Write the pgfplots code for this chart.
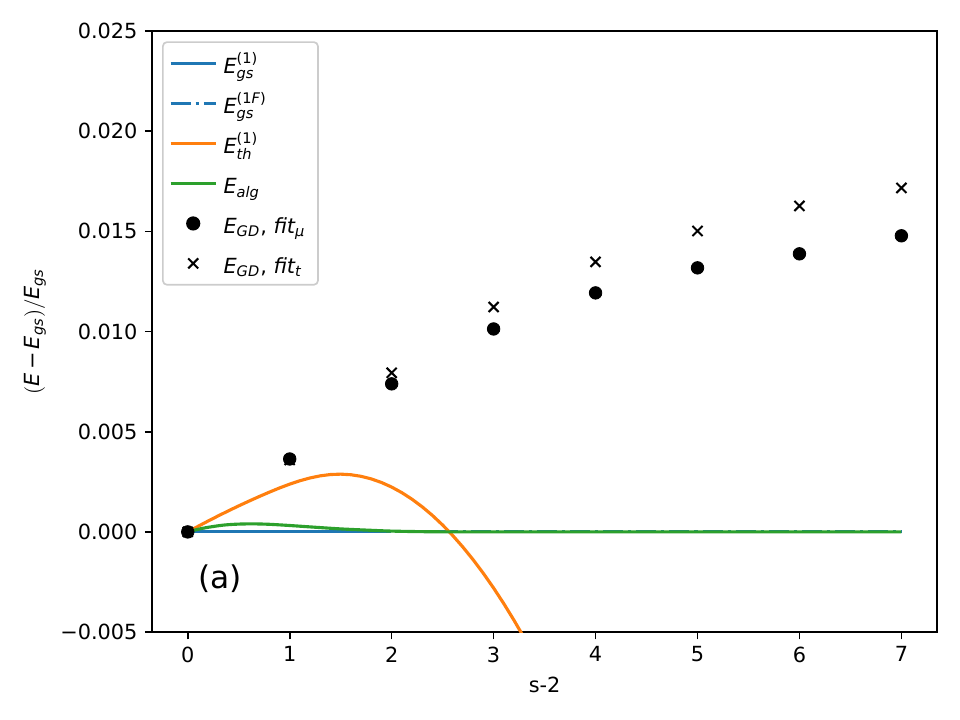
\documentclass[border=0pt]{standalone}
\usepackage{fontspec}
\setmainfont{DejaVu Sans}
\usepackage{amsmath}
\usepackage{pgfplots}
\pgfplotsset{compat=1.18}
\newcommand{\mi}[1]{\text{\itshape #1}}
\newcommand{\lst}{\rule[-5pt]{0pt}{16pt}}
\definecolor{cA}{HTML}{1F77B4}
\definecolor{cB}{HTML}{FF7F0E}
\definecolor{cC}{HTML}{2CA02C}
\begin{document}
\begin{tikzpicture}
\path[use as bounding box] (-73pt,-42.2pt) rectangle (387.8pt,303.4pt);
\begin{axis}[
  at={(0,0)}, anchor=south west, scale only axis,
  width=376.8pt, height=288.5pt,
  xmin=-0.35, xmax=7.35, ymin=-0.005, ymax=0.025,
  xtick={0,1,2,3,4,5,6,7},
  ytick={-0.005,0,0.005,0.01,0.015,0.02,0.025},
  yticklabels={−0.005,0.000,0.005,0.010,0.015,0.020,0.025},
  scaled y ticks=false,
  /pgf/number format/assume math mode=true,
  tick align=outside, tick pos=left,
  major tick length=3.5pt,
  every tick/.style={black, line width=0.8pt},
  axis line style={line width=0.8pt},
  tick label style={font=\fontsize{10}{12}\selectfont},
  label style={font=\fontsize{10}{12}\selectfont},
  xlabel={s-2},
  ylabel={$(\mi{E}\,\text{−}\,\mi{E}_{\mi{gs}})/\mi{E}_{\mi{gs}}$},
  legend cell align=left,
  legend style={at={(0.0127,0.983)}, anchor=north west,
    draw=black!20, rounded corners=2pt, line width=0.8pt,
    font=\fontsize{10}{12}\selectfont,
    nodes={inner ysep=1pt, inner xsep=3pt},
    row sep=4.7pt, inner xsep=3pt, inner ysep=3pt},
  legend image code/.code={\draw[mark repeat=2,mark phase=2] plot coordinates {(0cm,0cm)(0.38cm,0cm)(0.76cm,0cm)};},
  clip=true,
]
\addplot[cA, line width=1.5pt] coordinates {(0,0) (1.8,0)};
\addlegendentry{\lst$\mi{E}^{\text{(1)}}_{\mi{gs}}$}
\addplot[cA, line width=1.5pt, dash pattern=on 9.6pt off 2.4pt on 1.5pt off 2.4pt] coordinates {(1.8,0) (7,0)};
\addlegendentry{\lst$\mi{E}^{\text{(1}\mi{F}\text{)}}_{\mi{gs}}$}
\addplot[cB, line width=1.5pt] coordinates {
(0,0) (0.1,0.000276) (0.2,0.000544) (0.3,0.000804) (0.4,0.001056) (0.5,0.0013) (0.6,0.001536) (0.7,0.001764) (0.8,0.001984) (0.9,0.002193) (1.0,0.002385) (1.1,0.002554) (1.2,0.002694) (1.3,0.002799) (1.4,0.002864) (1.5,0.002883) (1.6,0.002854) (1.7,0.002775) (1.8,0.002646) (1.9,0.002467) (2.0,0.002238) (2.1,0.001959) (2.2,0.00163) (2.3,0.001251) (2.4,0.000822) (2.5,0.000343) (2.6,-0.000186) (2.7,-0.000765) (2.8,-0.001394) (2.9,-0.002073) (3.0,-0.002802) (3.1,-0.003581) (3.2,-0.00441) (3.3,-0.005289) (3.4,-0.006218)};
\addlegendentry{\lst$\mi{E}^{\text{(1)}}_{\mi{th}}$}
\addplot[cC, line width=1.5pt, smooth] coordinates {
(0,0) (0.1,0.00013) (0.2,0.00023) (0.35,0.00034) (0.5,0.00039) (0.65,0.0004) (0.8,0.00038) (1.0,0.00032) (1.2,0.00025) (1.5,0.00015) (1.8,0.00008) (2.0,0.00004) (2.3,0.000012) (2.6,0.000002) (3,0) (4,0) (7,0)};
\addlegendentry{\lst$\mi{E}_{\mi{alg}}$}
\addplot[only marks, mark=*, mark size=3pt, black] coordinates {
(0,0) (1,0.00364) (2,0.00739) (3,0.01013) (4,0.01193) (5,0.01318) (6,0.01388) (7,0.01478)};
\addlegendentry{\lst$\mi{E}_{\mi{GD}}\text{, }\mi{fit}_{\mi{μ}}$}
\addplot[only marks, mark=x, mark size=3.4pt, black, mark options={line width=1pt}] coordinates {
(0,0) (1,0.00359) (2,0.00794) (3,0.01123) (4,0.01348) (5,0.01502) (6,0.01627) (7,0.01717)};
\addlegendentry{\lst$\mi{E}_{\mi{GD}}\text{, }\mi{fit}_{\mi{t}}$}
\node[anchor=west, font=\fontsize{15}{18}\selectfont] at (axis cs:0.03,-0.00235) {(a)};
\end{axis}
\end{tikzpicture}
\end{document}
